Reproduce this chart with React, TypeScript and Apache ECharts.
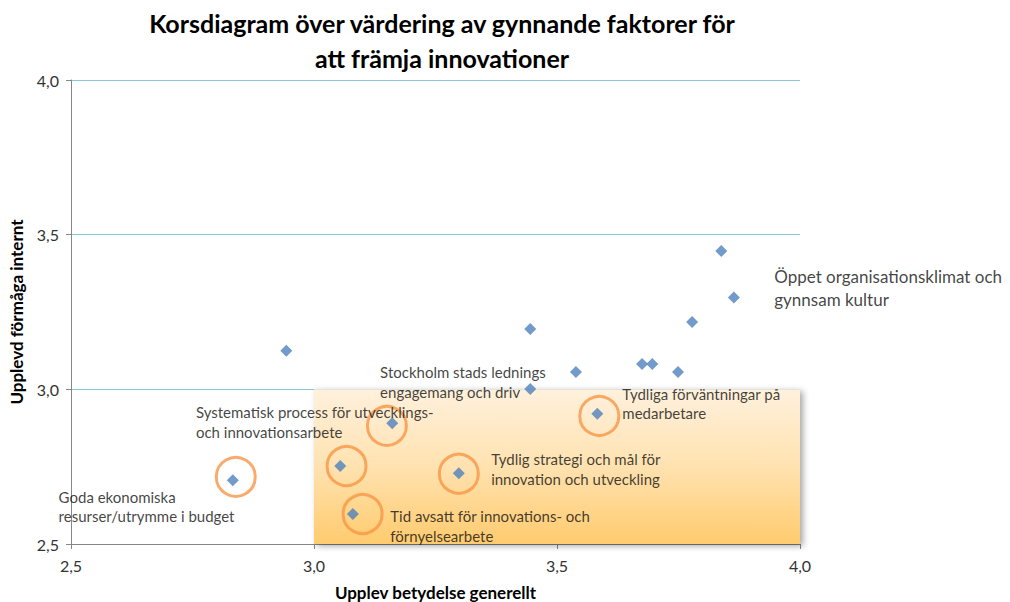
import React, { useEffect, useRef } from 'react';
import * as echarts from 'echarts';

// Scatter points: x = Upplev betydelse generellt, y = Upplevd förmåga internt
const pointX = [2.943, 3.445, 3.539, 3.445, 3.161, 3.838, 3.864, 3.778, 3.675, 3.696, 3.749, 3.583, 2.833, 3.054, 3.08, 3.298];
const pointY = [3.125, 3.195, 3.056, 3.001, 2.89, 3.447, 3.297, 3.218, 3.082, 3.082, 3.056, 2.921, 2.706, 2.752, 2.597, 2.729];

// Orange highlight rings (centres in data units)
const circleX = [2.839, 3.15, 3.067, 3.1, 3.298, 3.587];
const circleY = [2.717, 2.882, 2.752, 2.597, 2.727, 2.914];

// Annotation texts, anchored at their top-left corner (data units)
const labelTexts = [
  'Stockholm stads lednings\nengagemang och driv',
  'Systematisk process för utvecklings-\noch innovationsarbete',
  'Goda ekonomiska\nresurser/utrymme i budget',
  'Tid avsatt för innovations- och\nförnyelsearbete',
  'Tydlig strategi och mål för\ninnovation och utveckling',
  'Tydliga förväntningar på\nmedarbetare',
  'Öppet organisationsklimat och\ngynnsam kultur',
];
const labelX = [3.136, 2.757, 2.4745, 3.157, 3.3645, 3.6345, 3.947];
const labelY = [3.087, 2.957, 2.684, 2.622, 2.805, 3.018, 3.401];
const labelBig = [false, false, false, false, false, false, true];

// Highlighted quadrant (data units)
const boxFrom = [3.0, 3.0];
const boxTo = [4.0, 2.5];

const axisTicks = [2.5, 3.0, 3.5, 4.0];

const titleText = 'Korsdiagram över värdering av gynnande faktorer för\natt främja innovationer';
const xName = 'Upplev betydelse generellt';
const yName = 'Upplevd förmåga internt';

const FONT = 'Lato, "Open Sans", sans-serif';
const fmt = (v: number) => v.toFixed(1).replace('.', ',');

export default function App() {
  const ref = useRef<HTMLDivElement>(null);
  useEffect(() => {
    if (!ref.current) return;
    const chart = echarts.init(ref.current, null, { renderer: 'svg' });
    const axisCommon = {
      type: 'value' as const,
      min: axisTicks[0],
      max: axisTicks[axisTicks.length - 1],
      interval: 0.5,
      axisLine: { show: true, lineStyle: { color: '#868686', width: 1 } },
      axisTick: { show: true, length: 5, lineStyle: { color: '#868686' } },
      axisLabel: { color: '#333333', fontSize: 16, fontFamily: FONT, formatter: fmt },
      nameLocation: 'middle' as const,
      nameTextStyle: { color: '#000', fontSize: 17, fontWeight: 'bold' as const, fontFamily: FONT },
    };
    chart.setOption({
      animation: false,
      backgroundColor: '#ffffff',
      graphic: [
        {
          type: 'text',
          x: 442,
          y: 40,
          style: {
            text: titleText,
            textAlign: 'center',
            textVerticalAlign: 'middle',
            font: 'bold 25px ' + FONT,
            lineHeight: 35,
            fill: '#000',
          },
        },
      ],
      grid: { left: 71, right: 210, top: 80, bottom: 58, containLabel: false, outerBoundsMode: 'none' },
      xAxis: {
        ...axisCommon,
        name: xName,
        nameGap: 40,
        axisLabel: { ...axisCommon.axisLabel, margin: 13 },
        splitLine: { show: false },
      },
      yAxis: {
        ...axisCommon,
        name: yName,
        nameGap: 46,
        axisLabel: { ...axisCommon.axisLabel, margin: 12 },
        splitLine: { show: true, lineStyle: { color: '#86C9DC', width: 1 } },
      },
      series: [
        {
          type: 'scatter',
          name: 'box',
          data: [],
          z: 1,
          clip: false,
          markArea: {
            silent: true,
            itemStyle: {
              color: new echarts.graphic.LinearGradient(0, 0, 0, 1, [
                { offset: 0, color: '#FFF1DD' },
                { offset: 0.5, color: '#FFE2B0' },
                { offset: 1, color: '#FFCB6E' },
              ]),
              shadowColor: 'rgba(0,0,0,0.35)',
              shadowBlur: 6,
              shadowOffsetX: 3,
              shadowOffsetY: 2,
            },
            data: [[{ coord: boxFrom }, { coord: boxTo }]],
          },
        },
        {
          type: 'scatter',
          name: 'points',
          symbol: 'diamond',
          symbolSize: 12,
          itemStyle: { color: '#4F81BD' },
          z: 3,
          data: pointX.map((x, i) => [x, pointY[i]]),
        },
        {
          type: 'scatter',
          name: 'rings',
          symbol: 'circle',
          symbolSize: 39,
          itemStyle: { color: 'rgba(0,0,0,0)', borderColor: '#F79646', borderWidth: 3 },
          z: 4,
          data: circleX.map((x, i) => [x, circleY[i]]),
        },
        {
          type: 'scatter',
          name: 'labels',
          symbolSize: 0,
          clip: false,
          z: 5,
          itemStyle: { color: 'rgba(0,0,0,0)' },
          data: labelTexts.map((t, i) => ({
            value: [labelX[i], labelY[i]],
            label: {
              show: true,
              position: [0, 0],
              align: 'left',
              verticalAlign: 'top',
              formatter: t,
              color: '#111111',
              fontFamily: FONT,
              fontSize: labelBig[i] ? 17 : 15,
              lineHeight: labelBig[i] ? 23 : 19.5,
            },
          })),
        },
      ],
    });
    return () => chart.dispose();
  }, []);
  return (
    <div
      ref={ref}
      style={{ position: 'fixed', left: 0, top: 0, width: 1010, height: 602, background: '#fff' }}
    />
  );
}
